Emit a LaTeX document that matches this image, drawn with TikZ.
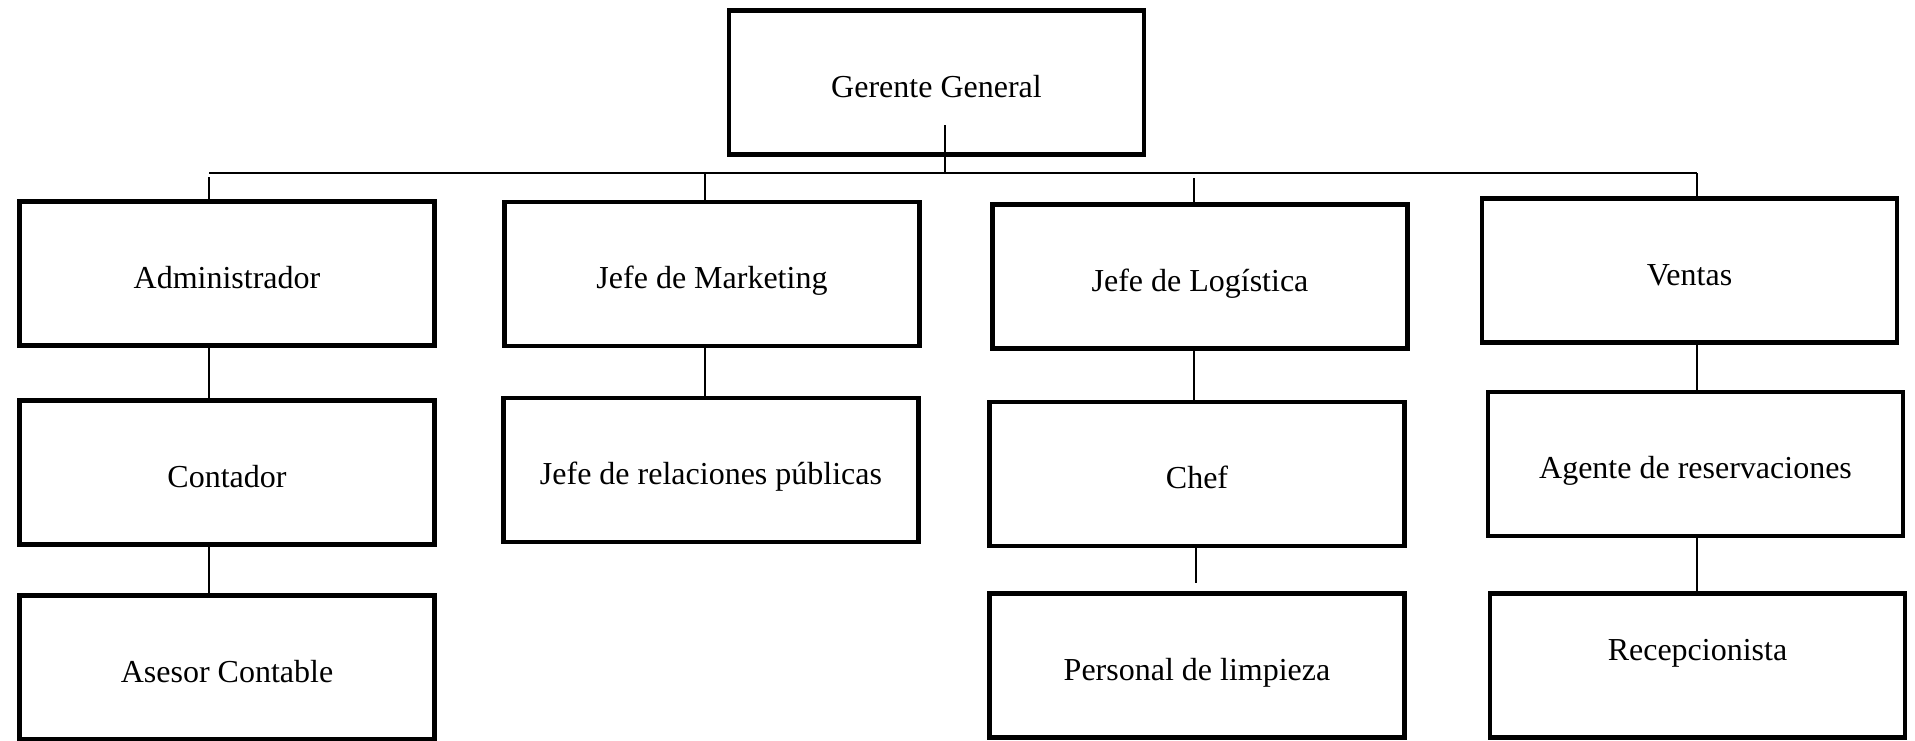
\documentclass[tikz,border=0pt]{standalone}
\usepackage{fontspec}
\setmainfont{Liberation Serif}
\begin{document}
\begin{tikzpicture}[x=1pt,y=-1pt,
  puesto/.style={draw,line width=4.5pt,minimum width=415pt,minimum height=144pt,inner sep=0pt,text height=29pt,text depth=0pt,font=\fontsize{32}{38}\selectfont},
  enlace/.style={line width=2pt}]
  \useasboundingbox (0,0) rectangle (1915,740);
  % nodos
  \node[puesto] (gerente) at (936.5,82.5) {Gerente General};
  \node[puesto] (admin) at (227,273.5) {Administrador};
  \node[puesto] (marketing) at (712,274) {Jefe de Marketing};
  \node[puesto] (logistica) at (1200,276.5) {Jefe de Log\'istica};
  \node[puesto] (ventas) at (1689.5,270.5) {Ventas};
  \node[puesto] (contador) at (227,472.5) {Contador};
  \node[puesto] (relaciones) at (711,470) {Jefe de relaciones p\'ublicas};
  \node[puesto] (chef) at (1197,474) {Chef};
  \node[puesto] (agente) at (1695.5,464) {Agente de reservaciones};
  \node[puesto] (asesor) at (227,667.5) {Asesor Contable};
  \node[puesto] (personal) at (1197,665.5) {Personal de limpieza};
  \node[puesto] (recepcion) at (1697.5,665.5) {\raisebox{20pt}{Recepcionista}};
  % puntos de la linea general
  \coordinate (tallo) at (945,125);
  \coordinate (busL) at (209,173);
  \coordinate (busR) at (1697,173);
  \coordinate (dA) at (209,177);
  \coordinate (dM) at (705,173);
  \coordinate (dL) at (1194,178);
  \coordinate (cp) at (1196,583);
  % conectores
  \draw[enlace] (tallo) -- (tallo |- busL);
  \draw[enlace] (busL) -- (busR);
  \draw[enlace] (dA) -- (dA |- admin.north);
  \draw[enlace] (dM) -- (dM |- marketing.north);
  \draw[enlace] (dL) -- (dL |- logistica.north);
  \draw[enlace] (busR) -- (busR |- ventas.north);
  \draw[enlace] (admin.south -| dA) -- (contador.north -| dA);
  \draw[enlace] (contador.south -| dA) -- (asesor.north -| dA);
  \draw[enlace] (marketing.south -| dM) -- (relaciones.north -| dM);
  \draw[enlace] (logistica.south -| dL) -- (chef.north -| dL);
  \draw[enlace] (chef.south -| cp) -- (cp);
  \draw[enlace] (ventas.south -| busR) -- (agente.north -| busR);
  \draw[enlace] (agente.south -| busR) -- (recepcion.north -| busR);
\end{tikzpicture}
\end{document}
